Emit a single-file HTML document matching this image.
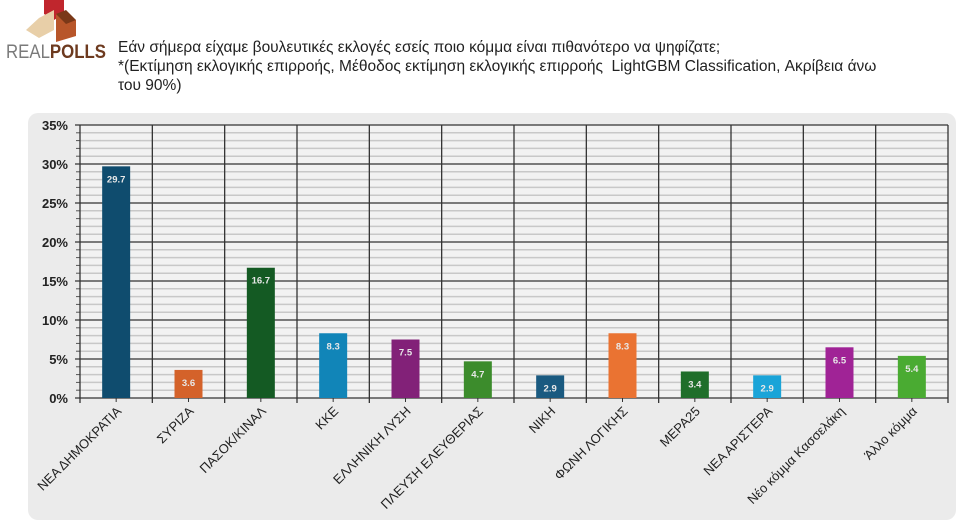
<!DOCTYPE html>
<html><head><meta charset="utf-8"><style>
body{margin:0;width:960px;height:522px;background:#fff;overflow:hidden;font-family:"Liberation Sans","DejaVu Sans",sans-serif;}
.title{position:absolute;left:118px;top:38px;font-size:15.5px;line-height:19px;color:#222;width:830px;}
</style></head><body>
<div style="position:absolute;left:4px;top:0;width:106px;height:66px;">
<svg width="106" height="66">
<polygon points="40,0 60,0 60,14 50,20 40,14" fill="#c0262d"/>
<polygon points="35,18 50,10 50,30 35,38 22,30" fill="#e8cfa8"/>
<polygon points="52,14 72,20 72,36 52,42" fill="#b8562a"/>
<polygon points="52,14 62,10 72,20 62,24" fill="#7a3818"/>
<text x="2" y="58" font-size="19" fill="#7a7a7a" font-family="Liberation Sans" textLength="100" lengthAdjust="spacingAndGlyphs">REAL<tspan font-weight="bold" fill="#6d3a1f">POLLS</tspan></text>
</svg></div>
<div class="title">Εάν σήμερα είχαμε βουλευτικές εκλογές εσείς ποιο κόμμα είναι πιθανότερο να ψηφίζατε;<br>*(Εκτίμηση εκλογικής επιρροής, Μέθοδος εκτίμηση εκλογικής επιρροής &nbsp;LightGBM Classification, Ακρίβεια άνω<br>του 90%)</div>
<div style="position:absolute;left:28px;top:113px;width:928px;height:407px;background:#ebebeb;border-radius:10px;"></div>
<svg id="chart" width="960" height="522" style="position:absolute;left:0;top:0"></svg>
<script>
const categories=["ΝΕΑ ΔΗΜΟΚΡΑΤΙΑ","ΣΥΡΙΖΑ","ΠΑΣΟΚ/ΚΙΝΑΛ","ΚΚΕ","ΕΛΛΗΝΙΚΗ ΛΥΣΗ","ΠΛΕΥΣΗ ΕΛΕΥΘΕΡΙΑΣ","ΝΙΚΗ","ΦΩΝΗ ΛΟΓΙΚΗΣ","ΜΕΡΑ25","ΝΕΑ ΑΡΙΣΤΕΡΑ","Νέο κόμμα Κασσελάκη","Άλλο κόμμα"];
const values=[29.7,3.6,16.7,8.3,7.5,4.7,2.9,8.3,3.4,2.9,6.5,5.4];
const colors=["#0f4c6e","#d4622a","#145a23","#1185b8","#822178","#3c8c2c","#1a5a80","#ea7332","#1f6e2a","#1aa4d8","#a02396","#4aab32"];
const yTicks=[0,5,10,15,20,25,30,35];
const NS="http://www.w3.org/2000/svg",svg=document.getElementById('chart');
const X0=80,X1=948,Y0=398,Y1=125,YMAX=35;
const bw=(X1-X0)/categories.length;
const y=v=>Y0-(v/YMAX)*(Y0-Y1);
const x=i=>X0+bw*(i+0.5);
function mk(t,a){const e=document.createElementNS(NS,t);for(const k in a)e.setAttribute(k,a[k]);svg.appendChild(e);return e;}
let bg=mk('rect',{x:X0,y:Y1,width:X1-X0,height:Y0-Y1,fill:'#f2f2f2'});


for(let v=1;v<YMAX;v++){if(v%5==0)continue;let l=mk('line',{x1:X0,x2:X1,y1:y(v),y2:y(v),stroke:'#c8c8c8','stroke-width':1.5});


let t=mk('line',{x1:X0-4,x2:X0,y1:y(v),y2:y(v),stroke:'#555'});

}
yTicks.forEach(v=>{let l=mk('line',{x1:X0-5,x2:X1,y1:y(v),y2:y(v),stroke:'#333','stroke-width':1.3});


let t=mk('text',{x:X0-12,y:y(v)+5,'text-anchor':'end','font-size':13,'font-weight':'bold',fill:'#222'});t.textContent=v+'%';

});
for(let i=0;i<=categories.length;i++){let l=mk('line',{x1:X0+bw*i,x2:X0+bw*i,y1:Y1,y2:Y0+5,stroke:'#333','stroke-width':1.3});

}
categories.forEach((c,i)=>{
let r=mk('rect',{x:x(i)-14,y:y(values[i]),width:28,height:Y0-y(values[i]),fill:colors[i]});


let lb=mk('text',{x:x(i),y:y(values[i])+16,'text-anchor':'middle','font-size':9.5,fill:'#e8e8e8','font-weight':'bold'});lb.textContent=values[i].toFixed(1);


let tk=mk('line',{x1:x(i),x2:x(i),y1:Y0,y2:Y0+4,stroke:'#333'});


let t=mk('text',{x:x(i)+6,y:Y0+14,'text-anchor':'end','font-size':13,fill:'#222',transform:`rotate(-45 ${x(i)+6} ${Y0+14})`});t.textContent=c;


});
</script>
</body></html>
